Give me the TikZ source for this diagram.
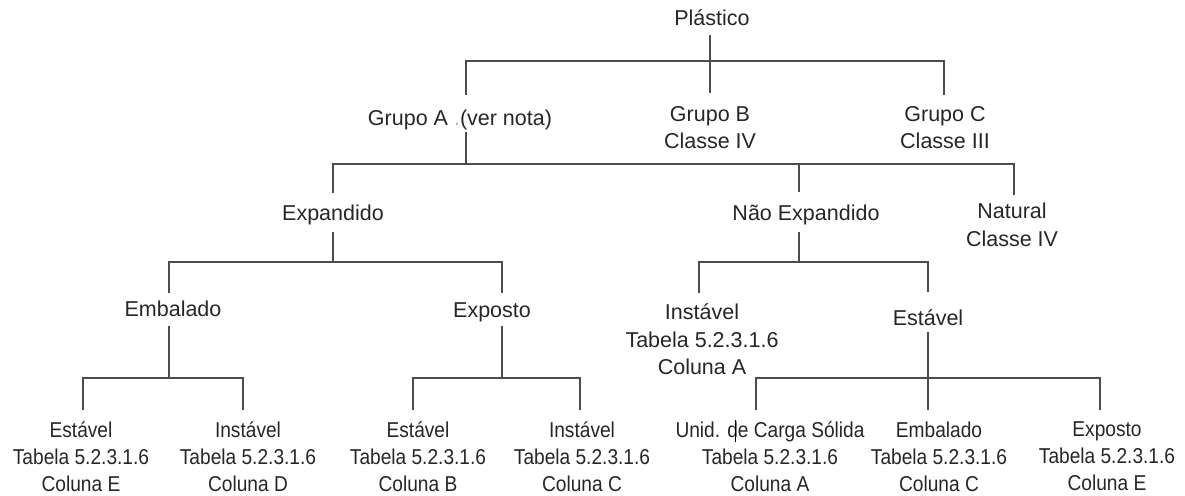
\documentclass[tikz,border=0pt]{standalone}
\usepackage{fontspec}
\setmainfont{Liberation Sans}
\newfontfamily\narrowfont[FakeStretch=0.89]{Liberation Sans}
\begin{document}
\begin{tikzpicture}[x=1pt,y=-1pt,
  lbl/.style={anchor=north,inner sep=0pt,outer sep=0pt,align=center,
    text=black!85,
    execute at begin node={\rule{0pt}{21pt}},
    execute at end node={\rule[-5pt]{0pt}{5pt}},
    font=\fontsize{21.5}{27.5}\selectfont},
  leaf/.style={lbl,font=\narrowfont\fontsize{21.5}{27}\selectfont},
  conn/.style={draw=black!70,line width=1.4pt}]
\useasboundingbox (0,0) rectangle (1185,495);
% nodes
\node[lbl] (plastico) at (712,5) {Plástico};
\node[lbl] (grupoA) at (460,104) {Grupo A {\color{black!30}.}(ver nota)};
\node[lbl] (grupoB) at (710,106) {Grupo B\\Classe IV};
\node[lbl] (grupoC) at (945,106) {Grupo C\\Classe III};
\node[lbl] (expandido) at (333,199) {Expandido};
\node[lbl] (naoexp) at (806,199) {Não Expandido};
\node[lbl] (natural) at (1012,203) {Natural\\Classe IV};
\node[lbl] (embalado) at (173,295) {Embalado};
\node[lbl] (exposto) at (492,296) {Exposto};
\node[lbl] (instavelA) at (702,304) {Instável\\Tabela 5.2.3.1.6\\Coluna A};
\node[lbl] (estavel) at (928,304) {Estável};
\node[leaf] (e1) at (81,422) {Estável\\Tabela 5.2.3.1.6\\Coluna E};
\node[leaf] (d1) at (248,422) {Instável\\Tabela 5.2.3.1.6\\Coluna D};
\node[leaf] (b1) at (418,422) {Estável\\Tabela 5.2.3.1.6\\Coluna B};
\node[leaf] (c1) at (582,422) {Instável\\Tabela 5.2.3.1.6\\Coluna C};
\node[leaf] (unid) at (770,422) {Unid. de Carga Sólida\\Tabela 5.2.3.1.6\\Coluna A};
\node[leaf] (emb2) at (939,422) {Embalado\\Tabela 5.2.3.1.6\\Coluna C};
\node[leaf] (exp2) at (1107,422) {Exposto\\Tabela 5.2.3.1.6\\Coluna E};
% joints
\coordinate (j1) at (710,61);
\coordinate (j2) at (466,164);
\coordinate (j3) at (333,262);
\coordinate (j4) at (799,262);
\coordinate (j5) at (169,378);
\coordinate (j6) at (502,378);
\coordinate (j7) at (928,378);
% Plastico
\draw[conn] ([xshift=-2pt,yshift=-4pt]plastico.south) -- (j1);
\draw[conn] ([xshift=6pt,yshift=9pt]grupoA.north) |- (j1);
\draw[conn] ([yshift=13pt]grupoB.north) |- (j1);
\draw[conn] ([xshift=-1pt,yshift=11pt]grupoC.north) |- (j1);
% Grupo A
\draw[conn] ([xshift=6pt,yshift=-2pt]grupoA.south) -- (j2);
\draw[conn] ([yshift=6pt]expandido.north) |- (j2);
\draw[conn] ([xshift=-7pt,yshift=7pt]naoexp.north) |- (j2);
\draw[conn] ([xshift=2pt,yshift=8pt]natural.north) |- (j2);
% Expandido
\draw[conn] ([yshift=-7pt]expandido.south) -- (j3);
\draw[conn] ([xshift=-4pt,yshift=2pt]embalado.north) |- (j3);
\draw[conn] ([xshift=10pt,yshift=3pt]exposto.north) |- (j3);
% Nao Expandido
\draw[conn] ([xshift=-7pt,yshift=-7pt]naoexp.south) -- (j4);
\draw[conn] ([xshift=-3pt,yshift=11pt]instavelA.north) |- (j4);
\draw[conn] ([yshift=12pt]estavel.north) |- (j4);
% Embalado
\draw[conn] ([xshift=-4pt,yshift=-5pt]embalado.south) -- (j5);
\draw[conn] ([xshift=2pt,yshift=12pt]e1.north) |- (j5);
\draw[conn] ([xshift=-5pt,yshift=12pt]d1.north) |- (j5);
% Exposto
\draw[conn] ([xshift=10pt,yshift=-4pt]exposto.south) -- (j6);
\draw[conn] ([xshift=-5pt,yshift=12pt]b1.north) |- (j6);
\draw[conn] ([xshift=-2pt,yshift=12pt]c1.north) |- (j6);
% Estavel
\draw[conn] ([yshift=-2pt]estavel.south) -- (j7);
\draw[conn] ([xshift=-14pt,yshift=12pt]unid.north) |- (j7);
\draw[conn] ([xshift=-11pt,yshift=12pt]emb2.north) |- (j7);
\draw[conn] ([xshift=-7pt,yshift=12pt]exp2.north) |- (j7);
% stray cursor mark in the reference
\draw[black,line width=1pt] (735,420) -- (735,442);
\end{tikzpicture}
\end{document}
